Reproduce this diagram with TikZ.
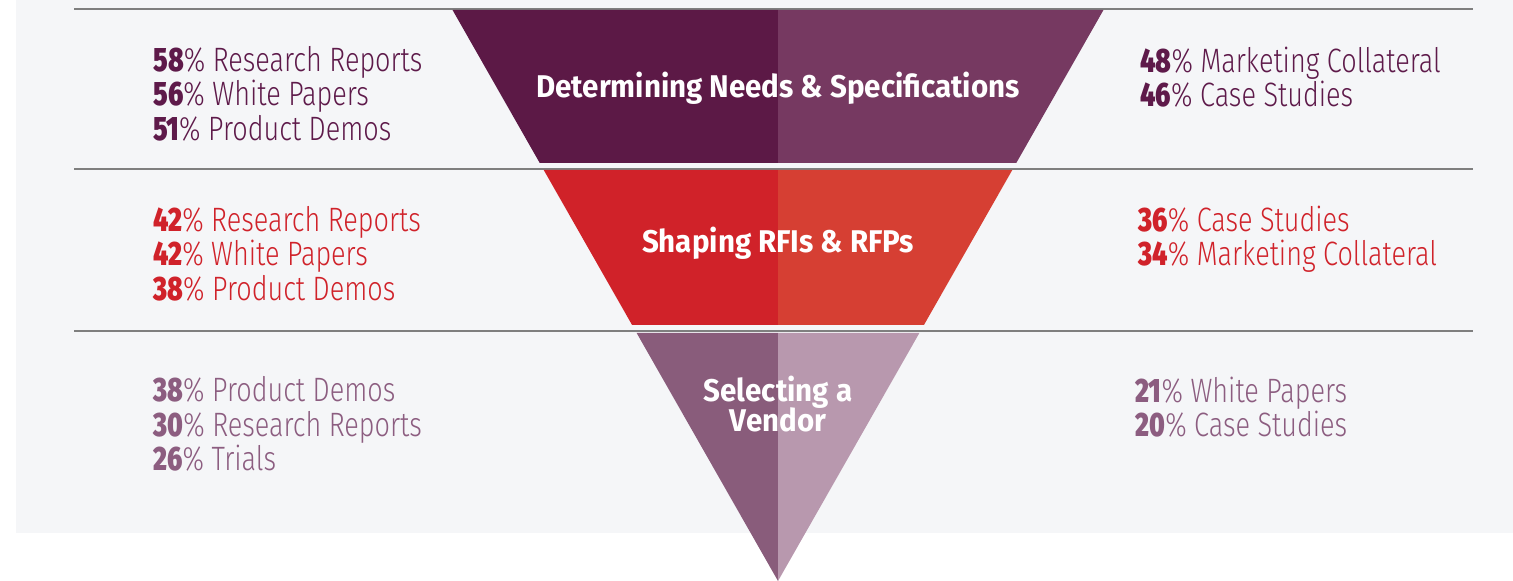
\documentclass[tikz,border=0pt]{standalone}
\usepackage{fontspec}
\setmainfont[FakeStretch=0.8]{Fira Sans Light}
\IfFontExistsTF{Fira Sans Black}
	{\newfontfamily\numfont[FakeStretch=0.78]{Fira Sans Black}}
	{\newfontfamily\numfont[FakeStretch=0.8]{Fira Sans ExtraBold}}
\newfontfamily\stagefont[FakeStretch=0.94]{Fira Sans Bold}
\usetikzlibrary{positioning}

\definecolor{panel}{HTML}{F5F6F8}
\definecolor{rulegray}{HTML}{7F7F7F}
\definecolor{plumdark}{HTML}{5C1946}
\definecolor{plumlight}{HTML}{763961}
\definecolor{reddark}{HTML}{D02229}
\definecolor{redlight}{HTML}{D63F33}
\definecolor{mauvedark}{HTML}{895C7B}
\definecolor{mauvelight}{HTML}{B898AE}
\definecolor{plumtext}{HTML}{5E1A4A}
\definecolor{redtext}{HTML}{D0222A}
\definecolor{mauvetext}{HTML}{8C5D80}

% bold figure, light percent sign
\newcommand{\pct}[1]{{\numfont #1}\%\ }
% lines closer than the font would allow
\newcommand{\statfont}{\fontsize{16.9}{17.25}\selectfont\lineskiplimit-20pt\relax}
\newcommand{\stagesize}{\stagefont\fontsize{15.7}{15}\selectfont\lineskiplimit-20pt\relax}

\begin{document}
\begin{tikzpicture}[x=0.5pt, y=-0.5pt,
	% base anchors sit on the last line
	stat/.style={anchor=base west, align=left, inner sep=0pt, font=\statfont},
	stage/.style={anchor=base, align=center, inner sep=0pt, text=white, font=\stagesize},
	divider/.style={draw=rulegray, line width=0.8pt}]
	\useasboundingbox (0,0) rectangle (1513,581);
	\fill[panel] (16,0) rectangle (1513,533);
	
	% row dividers
	\draw[divider] (74,9) -- (1473,9);
	\draw[divider] (74,169) -- (1473,169);
	\draw[divider] (74,331) -- (1473,331);
	
	% funnel bands, two tones each, apex at (778,581)
	\foreach \ytop/\ybot/\cl/\cr in {10/163/plumdark/plumlight,
		170/325/reddark/redlight, 333/581/mauvedark/mauvelight}{
		\fill[\cl] ({778-0.57*(581-\ytop)},\ytop) -- (778,\ytop)
			-- (778,\ybot) -- ({778-0.57*(581-\ybot)},\ybot) -- cycle;
		\fill[\cr] (778,\ytop) -- ({778+0.57*(581-\ytop)},\ytop)
			-- ({778+0.57*(581-\ybot)},\ybot) -- (778,\ybot) -- cycle;
	}
	
	\node[stage] (needs) at (778,97.7) {Determining Needs \& Specifications};
	\node[stage] (shaping) at (778,253) {Shaping RFIs \& RFPs};
	\node[stage] (vendor) at (778,431.7) {Selecting a\\Vendor};
	
	% left column
	\node[stat, text=plumtext] (needsleft) at (153,140.5)
		{\pct{58}Research Reports\\\pct{56}White Papers\\\pct{51}Product Demos};
	\node[stat, text=redtext] (shapingleft) at (153,300.5)
		{\pct{42}Research Reports\\\pct{42}White Papers\\\pct{38}Product Demos};
	\node[stat, text=mauvetext] (vendorleft) at (153,470.7)
		{\pct{38}Product Demos\\\pct{30}Research Reports\\\pct{26}Trials};
	
	% right column
	\node[stat, text=plumtext] (needsright) at (1140,106.7)
		{\pct{48}Marketing Collateral\\\pct{46}Case Studies};
	\node[stat, text=redtext] (shapingright) at (1138,266)
		{\pct{36}Case Studies\\\pct{34}Marketing Collateral};
	\node[stat, text=mauvetext] (vendorright) at (1135,436.7)
		{\pct{21}White Papers\\\pct{20}Case Studies};
\end{tikzpicture}
\end{document}
